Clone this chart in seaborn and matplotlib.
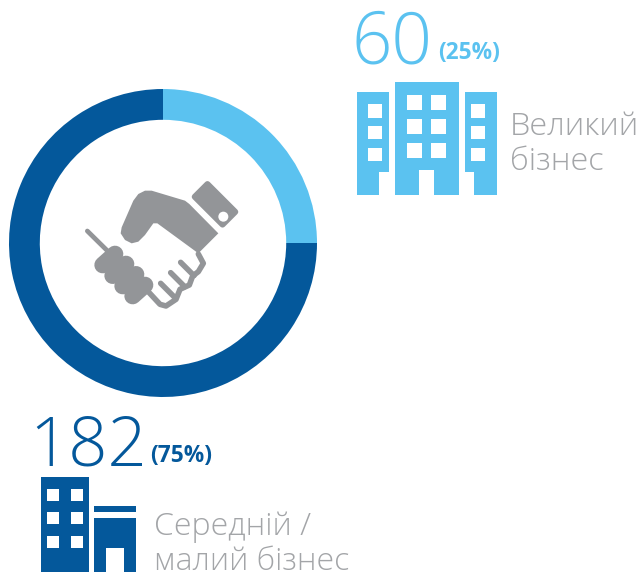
import matplotlib
matplotlib.use("Agg")
import matplotlib.pyplot as plt
import seaborn as sns
from matplotlib.patches import Polygon, Rectangle, Circle, FancyBboxPatch
from matplotlib.transforms import Affine2D

categories = ["Великий\nбізнес", "Середній /\nмалий бізнес"]
counts = [60, 182]
share_values = [25, 75]
palette = ["#5BC2F0", "#04589B"]
GREY = "#939598"
TEXT_GREY = "#A3A5A8"

sns.set_theme(style="white")
plt.rcParams["font.family"] = ["Open Sans", "DejaVu Sans"]
W, H = 639, 573
fig = plt.figure(figsize=(W / 100, H / 100), dpi=100, facecolor="white")

# donut
cx, cy, R = 163, 243, 154
ax_d = fig.add_axes([(cx - R) / W, 1 - (cy + R) / H, 2 * R / W, 2 * R / H])
ax_d.pie(share_values, colors=sns.color_palette(palette), startangle=90, counterclock=False,
         radius=1, wedgeprops=dict(width=0.2, linewidth=0))
ax_d.set_xlim(-1, 1); ax_d.set_ylim(-1, 1); ax_d.axis("off")

# overlay in pixel space
ax = fig.add_axes([0, 0, 1, 1], facecolor="none")
ax.set_xlim(0, W); ax.set_ylim(H, 0); ax.axis("off")

def rects(color, items, x0, y0):
    for a, b, c, d in items:
        ax.add_patch(Rectangle((x0 + a / 3, y0 + c / 3), (b - a) / 3, (d - c) / 3, fc=color, ec="none"))

def poly(color, pts, x0, y0):
    ax.add_patch(Polygon([(x0 + p / 3, y0 + q / 3) for p, q in pts], closed=True, fc=color, ec="none"))

# large-business icon
x0, y0 = 345, 0
c = palette[0]
poly(c, [(35,276),(131,276),(131,515),(103,515),(103,585),(35,585)], x0, y0)
poly(c, [(359,276),(455,276),(455,585),(387,585),(387,515),(359,515)], x0, y0)
poly(c, [(149,246),(342,246),(342,585),(267,585),(267,510),(222,510),(222,585),(149,585)], x0, y0)
for ya, yb in [(312,353),(378,418),(443,484)]:
    rects("white", [(69,111,ya,yb),(379,420,ya,yb)], x0, y0)
for ya, yb in [(286,330),(358,402),(430,474)]:
    rects("white", [(187,231,ya,yb),(258,303,ya,yb)], x0, y0)

# medium/small icon
x0, y0 = 20, 400
c = palette[1]
rects(c, [(63,206,230,515),(223,349,319,337)], x0, y0)
poly(c, [(223,354),(349,354),(349,515),(313,515),(313,443),(259,443),(259,515),(223,515)], x0, y0)
for ya, yb in [(266,302),(336,372),(407,443)]:
    rects("white", [(81,117,ya,yb),(153,189,ya,yb)], x0, y0)

# handshake icon
x0, y0 = 70, 170
def tx(pts):
    return [x0 + p / 3 for p, q in pts], [y0 + q / 3 for p, q in pts]
def stroke(pts, lw):
    xs, ys = tx(pts)
    ax.plot(xs, ys, color=GREY, lw=lw, solid_capstyle="round", solid_joinstyle="round")

# cuff
hl, hw = 68 / 3, 36 / 3
cuff = FancyBboxPatch((-hl, -hw), 2 * hl, 2 * hw, boxstyle="round,pad=0,rounding_size=3.5", fc=GREY, ec="none",
                      transform=Affine2D().rotate_deg(45).translate(x0 + 435 / 3, y0 + 103 / 3) + ax.transData)
ax.add_patch(cuff)
ax.add_patch(Circle((x0 + 460 / 3, y0 + 140 / 3), 15 / 3, fc="white", ec="none", zorder=3))
# palm
xs, ys = tx([(205,72),(225,62),(245,62),(345,92),(358,102),(445,190),(385,250),(262,160),(250,160),(225,195),
             (205,215),(185,220),(165,210),(152,190),(155,172),(190,92)])
ax.fill(xs, ys, color=GREY, lw=0)
# wrist line and knuckles
stroke([(52,183),(125,255)], 3.4)
for (a, b) in [((98,285),(135,252)), ((128,317),(168,282)), ((158,348),(198,313)), ((188,378),(225,345))]:
    stroke([a, b], 12)
# outlined fingers
stroke([(385,252),(400,280),(385,305),(368,318),(358,345),(330,358),(318,388),(288,408),(270,403),(232,362)], 4)
stroke([(332,277),(372,317)], 4)
stroke([(302,308),(344,350)], 4)
stroke([(272,340),(314,382)], 4)

# texts
ax.text(352, 63, str(counts[0]), color=palette[0], fontsize=51, fontweight="light", ha="left", va="baseline")
ax.text(438, 59, f"({share_values[0]}%)", color=palette[0], fontsize=16.3, fontweight="bold", ha="left", va="baseline")
ax.text(29, 465, str(counts[1]), color=palette[1], fontsize=49.5, fontweight="light", ha="left", va="baseline")
ax.text(150, 462, f"({share_values[1]}%)", color=palette[1], fontsize=16.3, fontweight="bold", ha="left", va="baseline")
l0 = categories[0].split("\n"); l1 = categories[1].split("\n")
ax.text(510, 135, l0[0], color=TEXT_GREY, fontsize=23.4, fontweight="light", va="baseline")
ax.text(510, 170, l0[1], color=TEXT_GREY, fontsize=23.4, fontweight="light", va="baseline")
ax.text(154, 535, l1[0], color=TEXT_GREY, fontsize=23, fontweight="light", va="baseline")
ax.text(154, 570, l1[1], color=TEXT_GREY, fontsize=23, fontweight="light", va="baseline")

fig.savefig("out.png", dpi=100, facecolor="white")
